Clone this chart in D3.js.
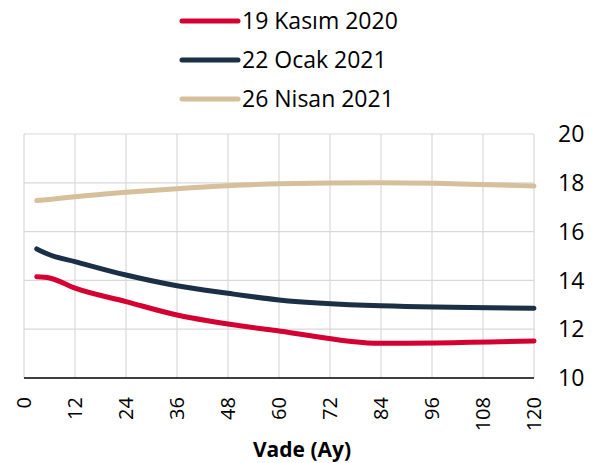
<!DOCTYPE html>
<html>
<head>
<meta charset="utf-8">
<script src="https://cdn.jsdelivr.net/npm/d3@7"></script>
<style>
  body { margin: 0; background: #fff; }
  text { font-family: "Open Sans", "Noto Sans", sans-serif; fill: #000; }
</style>
</head>
<body>
<svg id="chart" width="596" height="463"></svg>
<script>
// vade (ay)
const months = [3, 6, 12, 24, 36, 48, 60, 84, 120];
const seriesNames = ["19 Kasım 2020", "22 Ocak 2021", "26 Nisan 2021"];
const kasim2020 = [14.15, 14.1, 13.68, 13.13, 12.58, 12.21, 11.93, 11.42, 11.52];
const ocak2021 = [15.29, 15.05, 14.77, 14.22, 13.78, 13.47, 13.2, 12.96, 12.86];
const nisan2021 = [17.27, 17.32, 17.43, 17.61, 17.76, 17.88, 17.96, 18.0, 17.87];
const xTicks = [0, 12, 24, 36, 48, 60, 72, 84, 96, 108, 120];
const yTicks = [10, 12, 14, 16, 18, 20];
const colors = ["#d50032", "#1b2f45", "#d6bf9b"];

const series = [kasim2020, ocak2021, nisan2021];

const svg = d3.select("#chart");

const x = d3.scaleLinear().domain([0, 120]).range([24, 534]);
const y = d3.scaleLinear().domain([10, 20]).range([378, 134]);

// grid
svg.append("g")
    .selectAll("line")
    .data(yTicks.filter(d => d > 10))
    .enter()
    .append("line")
    .attr("x1", x(0))
    .attr("x2", x(120))
    .attr("y1", d => y(d))
    .attr("y2", d => y(d))
    .attr("stroke", "#d9d9d9")
    .attr("stroke-width", 1.2);

svg.append("g")
    .selectAll("line")
    .data(xTicks)
    .enter()
    .append("line")
    .attr("x1", d => x(d))
    .attr("x2", d => x(d))
    .attr("y1", y(20))
    .attr("y2", y(10))
    .attr("stroke", "#d9d9d9")
    .attr("stroke-width", 1.2);

// x axis line
svg.append("line")
    .attr("x1", x(0))
    .attr("x2", x(120))
    .attr("y1", y(10))
    .attr("y2", y(10))
    .attr("stroke", "#000")
    .attr("stroke-width", 1.5);

// lines
const line = d3.line()
    .x((d, i) => x(months[i]))
    .y(d => y(d))
    .curve(d3.curveMonotoneX);

svg.append("g")
    .selectAll("path")
    .data(series)
    .enter()
    .append("path")
    .attr("d", d => line(d))
    .attr("fill", "none")
    .attr("stroke", (d, i) => colors[i])
    .attr("stroke-width", 5)
    .attr("stroke-linecap", "round")
    .attr("stroke-linejoin", "round");

// y labels (right)
svg.append("g")
    .selectAll("text")
    .data(yTicks)
    .enter()
    .append("text")
    .attr("x", 558)
    .attr("y", d => y(d))
    .attr("dy", "0.36em")
    .attr("font-size", 23)
    .text(d => d);

// x labels rotated
svg.append("g")
    .selectAll("text")
    .data(xTicks)
    .enter()
    .append("text")
    .attr("transform", d => `translate(${x(d)},397) rotate(-90)`)
    .attr("text-anchor", "end")
    .attr("dy", "0.36em")
    .attr("font-size", 20)
    .text(d => d);

svg.append("text")
    .attr("x", 302)
    .attr("y", 457)
    .attr("text-anchor", "middle")
    .attr("font-size", 21)
    .attr("font-weight", "bold")
    .text("Vade (Ay)");

// legend
const legend = svg.append("g")
    .selectAll("g")
    .data(seriesNames)
    .enter()
    .append("g")
    .attr("transform", (d, i) => `translate(182,${21 + i * 39})`);

legend.append("line")
    .attr("x1", 0)
    .attr("x2", 56)
    .attr("stroke", (d, i) => colors[i])
    .attr("stroke-width", 5)
    .attr("stroke-linecap", "round");

legend.append("text")
    .attr("x", 60)
    .attr("dy", "0.36em")
    .attr("font-size", 23)
    .text(d => d);
</script>
</body>
</html>
